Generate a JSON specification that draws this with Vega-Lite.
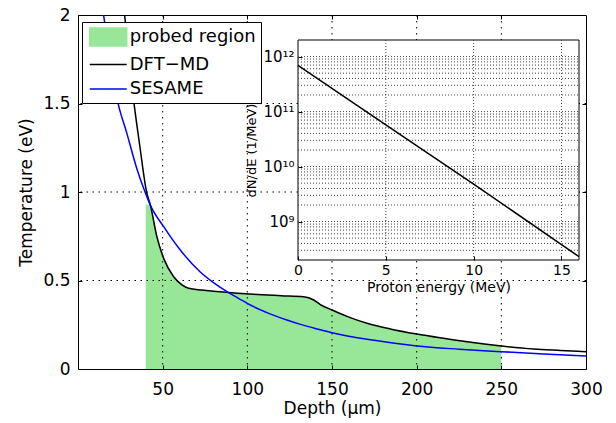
{
  "$schema": "https://vega.github.io/schema/vega-lite/v6.json",
  "width": 508,
  "height": 354,
  "autosize": {"type": "none"},
  "padding": {"left": 78, "top": 15, "right": 30, "bottom": 54},
  "background": "white",
  "config": {
    "font": "DejaVu Sans",
    "view": {"stroke": "black", "strokeWidth": 1},
    "axis": {"domain": false, "grid": false, "tickColor": "black", "labelColor": "black", "titleColor": "black", "titleFontWeight": "normal", "labelFlush": false, "labelOverlap": false}
  },
  "datasets": {
    "curves": [
      {"series": "probed region", "depth": 40, "T": 0.93},
      {"series": "probed region", "depth": 42.7, "T": 0.927},
      {"series": "probed region", "depth": 46.6, "T": 0.747},
      {"series": "probed region", "depth": 50.6, "T": 0.625},
      {"series": "probed region", "depth": 56.5, "T": 0.521},
      {"series": "probed region", "depth": 61.4, "T": 0.475},
      {"series": "probed region", "depth": 65.3, "T": 0.456},
      {"series": "probed region", "depth": 84, "T": 0.437},
      {"series": "probed region", "depth": 103.7, "T": 0.422},
      {"series": "probed region", "depth": 120, "T": 0.414},
      {"series": "probed region", "depth": 133.2, "T": 0.408},
      {"series": "probed region", "depth": 139.2, "T": 0.39},
      {"series": "probed region", "depth": 143.1, "T": 0.364},
      {"series": "probed region", "depth": 150, "T": 0.333},
      {"series": "probed region", "depth": 160, "T": 0.293},
      {"series": "probed region", "depth": 170.7, "T": 0.258},
      {"series": "probed region", "depth": 185, "T": 0.225},
      {"series": "probed region", "depth": 200, "T": 0.198},
      {"series": "probed region", "depth": 215, "T": 0.175},
      {"series": "probed region", "depth": 229.8, "T": 0.154},
      {"series": "probed region", "depth": 250, "T": 0.13},
      {"series": "DFT−MD", "depth": 25, "T": 2.15},
      {"series": "DFT−MD", "depth": 27.5, "T": 2.0},
      {"series": "DFT−MD", "depth": 30, "T": 1.765},
      {"series": "DFT−MD", "depth": 32.7, "T": 1.53},
      {"series": "DFT−MD", "depth": 36.5, "T": 1.26},
      {"series": "DFT−MD", "depth": 40.5, "T": 1.0},
      {"series": "DFT−MD", "depth": 42.7, "T": 0.927},
      {"series": "DFT−MD", "depth": 46.6, "T": 0.747},
      {"series": "DFT−MD", "depth": 50.6, "T": 0.625},
      {"series": "DFT−MD", "depth": 56.5, "T": 0.521},
      {"series": "DFT−MD", "depth": 61.4, "T": 0.475},
      {"series": "DFT−MD", "depth": 65.3, "T": 0.456},
      {"series": "DFT−MD", "depth": 84, "T": 0.437},
      {"series": "DFT−MD", "depth": 103.7, "T": 0.422},
      {"series": "DFT−MD", "depth": 120, "T": 0.414},
      {"series": "DFT−MD", "depth": 133.2, "T": 0.408},
      {"series": "DFT−MD", "depth": 139.2, "T": 0.39},
      {"series": "DFT−MD", "depth": 143.1, "T": 0.364},
      {"series": "DFT−MD", "depth": 150, "T": 0.333},
      {"series": "DFT−MD", "depth": 160, "T": 0.293},
      {"series": "DFT−MD", "depth": 170.7, "T": 0.258},
      {"series": "DFT−MD", "depth": 185, "T": 0.225},
      {"series": "DFT−MD", "depth": 200, "T": 0.198},
      {"series": "DFT−MD", "depth": 215, "T": 0.175},
      {"series": "DFT−MD", "depth": 229.8, "T": 0.154},
      {"series": "DFT−MD", "depth": 250, "T": 0.13},
      {"series": "DFT−MD", "depth": 269, "T": 0.113},
      {"series": "DFT−MD", "depth": 285, "T": 0.105},
      {"series": "DFT−MD", "depth": 300, "T": 0.098},
      {"series": "SESAME", "depth": 12, "T": 2.2},
      {"series": "SESAME", "depth": 15.1, "T": 2.0},
      {"series": "SESAME", "depth": 19, "T": 1.75},
      {"series": "SESAME", "depth": 23.2, "T": 1.52},
      {"series": "SESAME", "depth": 28.9, "T": 1.33},
      {"series": "SESAME", "depth": 34.8, "T": 1.13},
      {"series": "SESAME", "depth": 40.2, "T": 0.985},
      {"series": "SESAME", "depth": 42.5, "T": 0.93},
      {"series": "SESAME", "depth": 50.6, "T": 0.804},
      {"series": "SESAME", "depth": 60.4, "T": 0.672},
      {"series": "SESAME", "depth": 72.2, "T": 0.548},
      {"series": "SESAME", "depth": 80, "T": 0.488},
      {"series": "SESAME", "depth": 88, "T": 0.437},
      {"series": "SESAME", "depth": 95, "T": 0.398},
      {"series": "SESAME", "depth": 103.7, "T": 0.352},
      {"series": "SESAME", "depth": 113, "T": 0.313},
      {"series": "SESAME", "depth": 123.4, "T": 0.277},
      {"series": "SESAME", "depth": 131.4, "T": 0.252},
      {"series": "SESAME", "depth": 143.1, "T": 0.222},
      {"series": "SESAME", "depth": 150, "T": 0.205},
      {"series": "SESAME", "depth": 175, "T": 0.162},
      {"series": "SESAME", "depth": 200, "T": 0.13},
      {"series": "SESAME", "depth": 225, "T": 0.112},
      {"series": "SESAME", "depth": 250, "T": 0.098},
      {"series": "SESAME", "depth": 275, "T": 0.085},
      {"series": "SESAME", "depth": 300, "T": 0.073}
    ],
    "mainVGrid": [{"v": 50}, {"v": 100}, {"v": 150}, {"v": 200}, {"v": 250}],
    "mainHGrid": [{"v": 0.5}, {"v": 1}, {"v": 1.5}],
    "insetBox": [{"x": 0, "x2": 16, "y": 2e8, "y2": 2e12}],
    "insetVGrid": [{"x": 5}, {"x": 10}, {"x": 15}],
    "insetHGrid": [
      {"y": 3e8}, {"y": 4e8}, {"y": 5e8}, {"y": 6e8}, {"y": 7e8}, {"y": 8e8}, {"y": 9e8},
      {"y": 1e9}, {"y": 2e9}, {"y": 3e9}, {"y": 4e9}, {"y": 5e9}, {"y": 6e9}, {"y": 7e9}, {"y": 8e9}, {"y": 9e9},
      {"y": 1e10}, {"y": 2e10}, {"y": 3e10}, {"y": 4e10}, {"y": 5e10}, {"y": 6e10}, {"y": 7e10}, {"y": 8e10}, {"y": 9e10},
      {"y": 1e11}, {"y": 2e11}, {"y": 3e11}, {"y": 4e11}, {"y": 5e11}, {"y": 6e11}, {"y": 7e11}, {"y": 8e11}, {"y": 9e11},
      {"y": 1e12}
    ],
    "spectrum": [
      {"E": 0, "dNdE": 6.9e11},
      {"E": 5, "dNdE": 5.7e10},
      {"E": 10, "dNdE": 4.8e9},
      {"E": 16, "dNdE": 2.3e8}
    ]
  },
  "layer": [
    {
      "data": {"name": "curves"},
      "transform": [{"filter": {"field": "series", "equal": "probed region"}}],
      "mark": {"type": "area", "opacity": 1, "interpolate": "monotone"},
      "encoding": {
        "x": {"field": "depth", "type": "quantitative", "scale": {"domain": [0, 300], "nice": false, "zero": false},
          "axis": {"orient": "bottom", "values": [50, 100, 150, 200, 250, 300], "title": "Depth (μm)", "titleFontSize": 17, "labelFontSize": 17, "tickSize": -4, "labelPadding": 16, "titlePadding": 3, "zindex": 1}},
        "y": {"field": "T", "type": "quantitative", "scale": {"domain": [0, 2], "nice": false},
          "axis": {"orient": "left", "values": [0, 0.5, 1, 1.5, 2], "format": "~g", "title": "Temperature (eV)", "titleFontSize": 17, "labelFontSize": 17, "tickSize": -4, "labelPadding": 12, "titlePadding": 7, "zindex": 1}},
        "color": {"field": "series", "type": "nominal",
          "scale": {"domain": ["probed region", "DFT−MD", "SESAME"], "range": ["#98e698", "#000000", "#0000ff"]},
          "legend": {"orient": "none", "legendX": 4, "legendY": 7, "title": null, "labelFontSize": 18, "labelFont": "DejaVu Sans", "labelColor": "black", "labelLimit": 400,
            "symbolSize": 342, "symbolOffset": 11.25, "labelOffset": 11.5, "rowPadding": 5.5, "padding": 5, "strokeColor": "black", "fillColor": "white", "cornerRadius": 0,
            "encode": {"symbols": {"update": {
              "shape": {"signal": "datum.value === 'probed region' ? 'M-2,-0.96H2V0.96H-2Z' : 'M-2,0H2'"},
              "fill": {"signal": "datum.value === 'probed region' ? '#98e698' : 'transparent'"},
              "stroke": {"signal": "datum.value === 'probed region' ? 'transparent' : (datum.value === 'SESAME' ? '#0000ff' : '#000000')"},
              "strokeWidth": {"value": 1.5},
              "opacity": {"value": 1}
            }}}}
        }
      }
    },
    {
      "data": {"name": "mainVGrid"},
      "mark": {"type": "rule", "color": "black", "strokeWidth": 1, "strokeDash": [1.5, 4.5]},
      "encoding": {"x": {"field": "v", "type": "quantitative", "scale": {"domain": [0, 300], "nice": false, "zero": false}, "axis": null}}
    },
    {
      "data": {"name": "mainHGrid"},
      "mark": {"type": "rule", "color": "black", "strokeWidth": 1, "strokeDash": [1.5, 4.5]},
      "encoding": {"y": {"field": "v", "type": "quantitative", "scale": {"domain": [0, 2], "nice": false}, "axis": null}}
    },
    {
      "data": {"name": "curves"},
      "transform": [{"filter": {"field": "series", "equal": "DFT−MD"}}],
      "mark": {"type": "line", "strokeWidth": 1.5, "clip": true, "interpolate": "monotone"},
      "encoding": {
        "x": {"field": "depth", "type": "quantitative", "scale": {"domain": [0, 300], "nice": false, "zero": false},
          "axis": {"orient": "top", "values": [50, 100, 150, 200, 250], "labels": false, "title": null, "tickSize": -4, "zindex": 1}},
        "y": {"field": "T", "type": "quantitative", "scale": {"domain": [0, 2], "nice": false},
          "axis": {"orient": "right", "values": [0.5, 1, 1.5], "labels": false, "title": null, "tickSize": -4, "zindex": 1}},
        "color": {"field": "series", "type": "nominal",
          "scale": {"domain": ["probed region", "DFT−MD", "SESAME"], "range": ["#98e698", "#000000", "#0000ff"]},
          "legend": {"orient": "none", "legendX": 4, "legendY": 7, "title": null, "labelFontSize": 18, "labelFont": "DejaVu Sans", "labelColor": "black", "labelLimit": 400,
            "symbolSize": 342, "symbolOffset": 11.25, "labelOffset": 11.5, "rowPadding": 5.5, "padding": 5, "strokeColor": "black", "fillColor": "white", "cornerRadius": 0,
            "encode": {"symbols": {"update": {
              "shape": {"signal": "datum.value === 'probed region' ? 'M-2,-0.96H2V0.96H-2Z' : 'M-2,0H2'"},
              "fill": {"signal": "datum.value === 'probed region' ? '#98e698' : 'transparent'"},
              "stroke": {"signal": "datum.value === 'probed region' ? 'transparent' : (datum.value === 'SESAME' ? '#0000ff' : '#000000')"},
              "strokeWidth": {"value": 1.5},
              "opacity": {"value": 1}
            }}}}
        }
      }
    },
    {
      "data": {"name": "curves"},
      "transform": [{"filter": {"field": "series", "equal": "SESAME"}}],
      "mark": {"type": "line", "strokeWidth": 1.5, "clip": true, "interpolate": "monotone"},
      "encoding": {
        "x": {"field": "depth", "type": "quantitative", "scale": {"domain": [0, 300], "nice": false, "zero": false}, "axis": null},
        "y": {"field": "T", "type": "quantitative", "scale": {"domain": [0, 2], "nice": false}, "axis": null},
        "color": {"field": "series", "type": "nominal",
          "scale": {"domain": ["probed region", "DFT−MD", "SESAME"], "range": ["#98e698", "#000000", "#0000ff"]},
          "legend": {"orient": "none", "legendX": 4, "legendY": 7, "title": null, "labelFontSize": 18, "labelFont": "DejaVu Sans", "labelColor": "black", "labelLimit": 400,
            "symbolSize": 342, "symbolOffset": 11.25, "labelOffset": 11.5, "rowPadding": 5.5, "padding": 5, "strokeColor": "black", "fillColor": "white", "cornerRadius": 0,
            "encode": {"symbols": {"update": {
              "shape": {"signal": "datum.value === 'probed region' ? 'M-2,-0.96H2V0.96H-2Z' : 'M-2,0H2'"},
              "fill": {"signal": "datum.value === 'probed region' ? '#98e698' : 'transparent'"},
              "stroke": {"signal": "datum.value === 'probed region' ? 'transparent' : (datum.value === 'SESAME' ? '#0000ff' : '#000000')"},
              "strokeWidth": {"value": 1.5},
              "opacity": {"value": 1}
            }}}}
        }
      }
    },
    {
      "data": {"name": "insetBox"},
      "mark": {"type": "rect", "fill": "white", "stroke": "black", "strokeWidth": 1},
      "encoding": {
        "x": {"field": "x", "type": "quantitative", "scale": {"domain": [0, 16], "range": [220, 501], "nice": false, "zero": false},
          "axis": {"orient": "bottom", "offset": -109, "values": [0, 5, 10, 15], "labelFontSize": 14, "tickSize": -4, "labelPadding": 7, "title": "Proton energy (MeV)", "titleFontSize": 14, "titlePadding": 3, "zindex": 2}},
        "x2": {"field": "x2"},
        "y": {"field": "y", "type": "quantitative", "scale": {"type": "log", "domain": [2e8, 2e12], "range": [245, 25], "nice": false},
          "axis": {"orient": "left", "offset": -220, "values": [1e9, 1e10, 1e11, 1e12], "labelFontSize": 15, "tickSize": -4, "labelPadding": 8,
            "labelExpr": "datum.value > 5e11 ? '10¹²' : datum.value > 5e10 ? '10¹¹' : datum.value > 5e9 ? '10¹⁰' : '10⁹'",
            "title": "dN/dE (1/MeV)", "titleFontSize": 13, "titlePadding": 4, "zindex": 2}},
        "y2": {"field": "y2"}
      }
    },
    {
      "data": {"name": "insetVGrid"},
      "mark": {"type": "rule", "color": "#444444", "strokeWidth": 1, "strokeDash": [1, 2]},
      "encoding": {
        "x": {"field": "x", "type": "quantitative", "scale": {"domain": [0, 16], "range": [220, 501], "nice": false, "zero": false}, "axis": null},
        "y": {"datum": 2e8, "type": "quantitative", "scale": {"type": "log", "domain": [2e8, 2e12], "range": [245, 25], "nice": false}, "axis": null},
        "y2": {"datum": 2e12}
      }
    },
    {
      "data": {"name": "insetHGrid"},
      "mark": {"type": "rule", "color": "#444444", "strokeWidth": 1, "strokeDash": [1, 2]},
      "encoding": {
        "x": {"datum": 0, "type": "quantitative", "scale": {"domain": [0, 16], "range": [220, 501], "nice": false, "zero": false}, "axis": null},
        "x2": {"datum": 16},
        "y": {"field": "y", "type": "quantitative", "scale": {"type": "log", "domain": [2e8, 2e12], "range": [245, 25], "nice": false}, "axis": null}
      }
    },
    {
      "data": {"name": "spectrum"},
      "mark": {"type": "line", "color": "black", "strokeWidth": 1.5},
      "encoding": {
        "x": {"field": "E", "type": "quantitative", "scale": {"domain": [0, 16], "range": [220, 501], "nice": false, "zero": false}, "axis": null},
        "y": {"field": "dNdE", "type": "quantitative", "scale": {"type": "log", "domain": [2e8, 2e12], "range": [245, 25], "nice": false}, "axis": null}
      }
    }
  ],
  "resolve": {"scale": {"x": "independent", "y": "independent"}, "axis": {"x": "independent", "y": "independent"}}
}
